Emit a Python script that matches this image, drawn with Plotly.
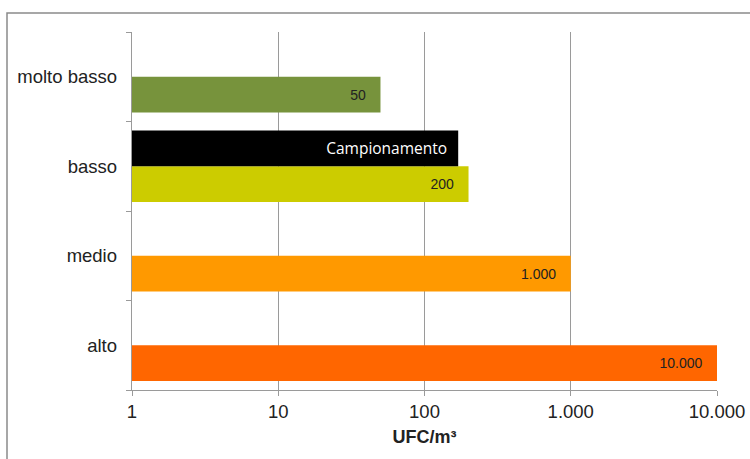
import plotly.graph_objects as go

categories = ["alto", "medio", "basso", "molto basso"]
values = [10000, 1000, 200, 50]
value_labels = ["10.000", "1.000", "200", "50"]
bar_colors = ["#FF6600", "#FF9900", "#CCCC00", "#77933C"]

camp_categories = ["basso"]
camp_values = [170]
camp_labels = ["Campionamento"]

tick_vals = [1, 10, 100, 1000, 10000]
tick_text = ["1", "10", "100", "1.000", "10.000"]

fig = go.Figure()
fig.add_trace(go.Bar(
    y=categories, x=values, orientation="h",
    marker=dict(color=bar_colors, line=dict(width=0)),
    text=value_labels, texttemplate="%{text}\u00a0\u00a0\u00a0",
    textposition="inside", insidetextanchor="end",
    textfont=dict(family="Liberation Sans Narrow, Liberation Sans, Arial", size=14, color="#222222"),
    hoverinfo="skip", showlegend=False,
))
fig.add_trace(go.Bar(
    y=camp_categories, x=camp_values, orientation="h",
    marker=dict(color="#000000", line=dict(width=0)),
    text=camp_labels, texttemplate="%{text}\u00a0\u00a0",
    textposition="inside", insidetextanchor="end",
    textfont=dict(family="Open Sans, Noto Sans", size=15.5, color="#FFFFFF"),
    hoverinfo="skip", showlegend=False,
))

W, H = 750, 459
L, T = 132, 32
pw, ph = 585, 358
R, B = W - L - pw, H - T - ph

fig.update_layout(
    width=W, height=H,
    margin=dict(l=L, r=R, t=T, b=B, autoexpand=False),
    barmode="group", bargap=0.2, bargroupgap=0,
    paper_bgcolor="white", plot_bgcolor="white",
    font=dict(family="Liberation Sans, Arial", size=18.5, color="#222222"),
    xaxis=dict(
        type="log", range=[0, 4], automargin=False,
        tickvals=tick_vals, ticktext=tick_text,
        showgrid=True, gridcolor="#9a9a9a", gridwidth=1,
        showline=True, linecolor="#9a9a9a", linewidth=1,
        ticks="outside", ticklen=5, tickcolor="#9a9a9a",
        tickfont=dict(size=18.5, color="#222222"),
        ticklabeloverflow="allow",
        title=dict(text="<b>UFC/m³</b>", font=dict(size=18, color="#222222"), standoff=9),
        zeroline=False,
    ),
    yaxis=dict(
        type="category", categoryorder="array", categoryarray=categories,
        automargin=False,
        showline=True, linecolor="#9a9a9a", linewidth=1,
        ticks="outside", ticklen=5, tickcolor="#9a9a9a", tickson="boundaries",
        tickfont=dict(size=18.5, color="#222222"),
        showgrid=False, ticksuffix="  ",
    ),
    shapes=[dict(
        type="rect", xref="paper", yref="paper",
        x0=(7 - L) / pw, x1=(W + 20 - L) / pw,
        y0=-(B + 20) / ph, y1=1 + (T - 13) / ph,
        line=dict(color="#8a8a8a", width=1.5), fillcolor="rgba(0,0,0,0)",
        layer="below",
    )],
)

fig.write_html(
    "out.html",
    config={"displayModeBar": False, "staticPlot": True},
    post_script="document.body.style.margin='0';document.body.style.overflow='hidden';",
)
